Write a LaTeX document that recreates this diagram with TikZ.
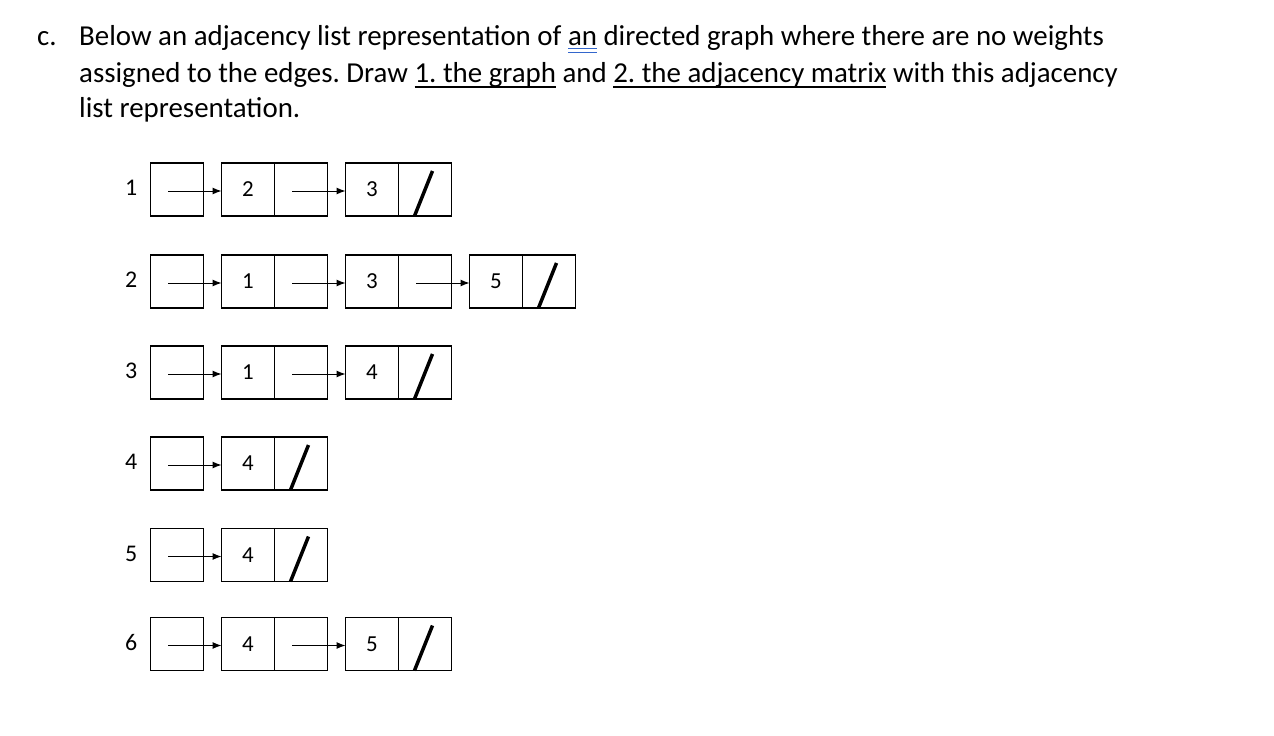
\documentclass[tikz,border=0pt]{standalone}
\usepackage{fontspec}
\setmainfont{Carlito}
\usetikzlibrary{positioning,arrows.meta}
\frenchspacing

\definecolor{markblue}{RGB}{51,102,204}
\newcommand\lineunder[1]{\setbox0\hbox{#1}\rlap{\rule[-5bp]{\wd0}{1.8bp}}\box0\relax}
\newcommand\anmark[1]{\setbox0\hbox{#1}\rlap{\color{markblue}\rule[-3.3bp]{\wd0}{1.1bp}\kern-\wd0\rule[-6.9bp]{\wd0}{1.1bp}}\box0\relax}

\tikzset{
  cell/.style={draw, line width=1.3bp, outer sep=0pt, minimum width=53bp, minimum height=53bp, inner sep=0pt, font=\fontsize{23}{23}\selectfont},
  vlabel/.style={inner sep=0pt, font=\fontsize{24}{24}\selectfont},
  textline/.style={anchor=base west, inner sep=0pt, font=\fontsize{29}{36}\selectfont},
  ptr/.style={-{Latex[length=9bp,width=7bp]}, line width=1bp},
  nil/.style={line width=3.5bp}
}

\begin{document}
\begin{tikzpicture}[x=1bp, y=-1bp, node distance=18bp]
\useasboundingbox (0,0) rectangle (1274,736);
% question text
\node[textline] (qc) at (37,46) {c.};
\node[textline] (q1) at (79,46) {Below an adjacency list representation of \anmark{an} directed graph where there are no weights};
\node[textline] (q2) at (79,83) {assigned to the edges. Draw \lineunder{1. the graph} and \lineunder{2. the adjacency matrix} with this adjacency};
\node[textline] (q3) at (79,118) {list representation.};

% heads
\foreach \i/\y in {1/189.5, 2/281.5, 3/372.5, 4/463.5, 5/555, 6/644}{
  \node[cell] (h\i) at (177,\y) {};
  \node[vlabel, left=13bp of h\i, yshift=1.5bp] (l\i) {\i};
}

% row 1
\node[cell, right=of h1] (v11) {2};
\node[cell, right=0pt of v11] (p11) {};
\node[cell, right=of p11] (v12) {3};
\node[cell, right=0pt of v12] (p12) {};
% row 2
\node[cell, right=of h2] (v21) {1};
\node[cell, right=0pt of v21] (p21) {};
\node[cell, right=of p21] (v22) {3};
\node[cell, right=0pt of v22] (p22) {};
\node[cell, right=of p22] (v23) {5};
\node[cell, right=0pt of v23] (p23) {};
% row 3
\node[cell, right=of h3] (v31) {1};
\node[cell, right=0pt of v31] (p31) {};
\node[cell, right=of p31] (v32) {4};
\node[cell, right=0pt of v32] (p32) {};
% row 4 and 5
\node[cell, right=of h4] (v41) {4};
\node[cell, right=0pt of v41] (p41) {};
\node[cell, right=of h5] (v51) {4};
\node[cell, right=0pt of v51] (p51) {};
% row 6
\node[cell, right=of h6] (v61) {4};
\node[cell, right=0pt of v61] (p61) {};
\node[cell, right=of p61] (v62) {5};
\node[cell, right=0pt of v62] (p62) {};

% pointers
\foreach \a/\b in {h1/v11, p11/v12, h2/v21, p21/v22, p22/v23, h3/v31, p31/v32, h4/v41, h5/v51, h6/v61, p61/v62}
  \draw[ptr] ([xshift=-9bp,yshift=-1.5bp]\a.center) -- ([yshift=-1.5bp]\b.west);

% end of list
\foreach \c in {p12, p23, p32, p41, p51, p62}
  \draw[nil] ([xshift=16bp]\c.south west) -- ([xshift=34bp,yshift=-8bp]\c.north west);
\end{tikzpicture}
\end{document}
